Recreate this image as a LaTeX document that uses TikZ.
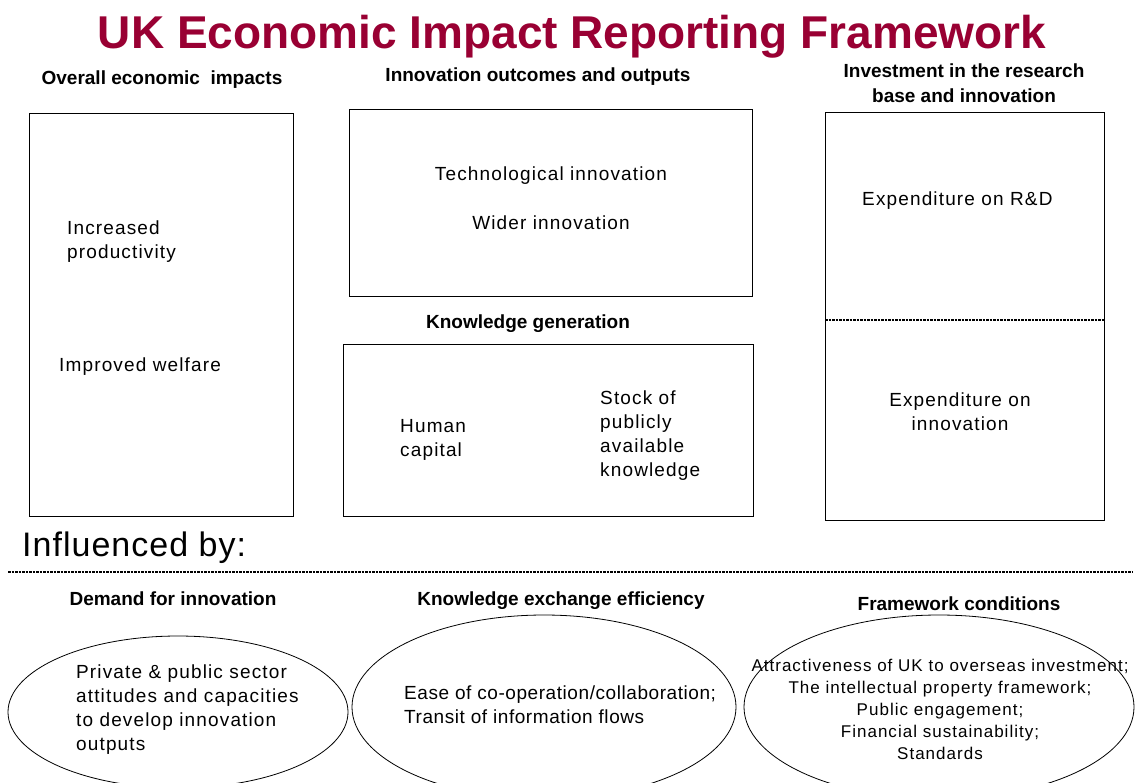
\documentclass[tikz,border=0pt]{standalone}
\definecolor{titlered}{RGB}{153, 0, 51}
\usepackage{fontspec}
\setmainfont{Liberation Sans}
\newfontfamily\bodyfont[LetterSpace=6]{Liberation Sans}
\newfontfamily\largefont[LetterSpace=3]{Liberation Sans}
\usepackage{tikz}
\usetikzlibrary{shapes.geometric, positioning}

\begin{document}
\begin{tikzpicture}[
  x=1pt, y=-1pt,
  panel/.style={draw, line width=1pt, anchor=north west, inner sep=0pt},
  oval/.style={draw, ellipse, line width=0.8pt, inner sep=0pt},
  head/.style={font=\fontsize{19}{25}\selectfont\bfseries, align=center, inner sep=0pt},
  body/.style={font=\bodyfont\fontsize{19}{24}\selectfont, inner sep=0pt},
  small/.style={font=\bodyfont\fontsize{17}{22}\selectfont, inner sep=0pt, align=center},
  split/.style={line width=1.6pt, dash pattern=on 2.5pt off 1pt}
]
  \useasboundingbox (0,0) rectangle (1142,782);

  % title
  \node[font=\fontsize{46}{50}\selectfont\bfseries, text=titlered, anchor=base, inner sep=0pt] (title) at (572,48) {UK Economic Impact Reporting Framework};

  % column headings
  \node[head] (hImpacts) at (162,80) {Overall economic~ impacts};
  \node[head] (hOutcomes) at (538,77) {Innovation outcomes and outputs};
  \node[head] (hInvest) at (964,83) {Investment in the research\\base and innovation};
  \node[head] (hKnow) at (528,324) {Knowledge generation};

  % boxes
  \node[panel, minimum width=264pt, minimum height=403pt] (impacts) at (29,113) {};
  \node[panel, minimum width=403pt, minimum height=187pt] (outcomes) at (349,109) {};
  \node[panel, minimum width=410pt, minimum height=172pt] (know) at (343,344) {};
  \node[panel, minimum width=279pt, minimum height=408pt] (invest) at (825,112) {};
  \coordinate (splitL) at (825,320);
  \coordinate (splitR) at (1104,320);
  \draw[split] (splitL) -- (splitR);

  % box contents
  \node[body, anchor=west, align=left] (prod) at (67,242) {Increased\\productivity};
  \node[body, anchor=west] (welfare) at (59,367) {Improved welfare};
  \node[body] (tech) at (551,176) {Technological innovation};
  \node[body] (wider) at (551,223) {Wider innovation};
  \node[body, anchor=west, align=left] (human) at (400,440) {Human\\capital};
  \node[body, anchor=west, align=left] (stock) at (600,436) {Stock of\\publicly\\available\\knowledge};
  \node[body, anchor=west] (rd) at (862,201) {Expenditure on R\&D};
  \node[body, align=center] (expInn) at (960,412) {Expenditure on\\innovation};

  % influences
  \node[font=\largefont\fontsize{34}{38}\selectfont, anchor=west, inner sep=0pt] (influenced) at (22,548) {Influenced by:};
  \coordinate (ruleL) at (8,572);
  \coordinate (ruleR) at (1133,572);
  \draw[split] (ruleL) -- (ruleR);

  \node[head] (hDemand) at (173,599) {Demand for innovation};
  \node[head] (hExchange) at (561,601) {Knowledge exchange efficiency};
  \node[head] (hConditions) at (959,604) {Framework conditions};

  \node[oval, minimum width=340pt, minimum height=152pt] (demand) at (178,712) {};
  \node[oval, minimum width=384pt, minimum height=184pt] (exchange) at (544,707) {};
  \node[oval, minimum width=390pt, minimum height=184pt] (conditions) at (939,707) {};

  \node[body, anchor=west, align=left] (demandTxt) at (76,710) {Private \& public sector\\attitudes and capacities\\to develop innovation\\outputs};
  \node[body, anchor=west, align=left, font=\largefont\fontsize{19}{24}\selectfont] (exchangeTxt) at (404,705) {Ease of co-operation/collaboration;\\Transit of information flows};
  \node[small] (conditionsTxt) at (940,709) {Attractiveness of UK to overseas investment;\\The intellectual property framework;\\Public engagement;\\Financial sustainability;\\Standards};
\end{tikzpicture}
\end{document}
